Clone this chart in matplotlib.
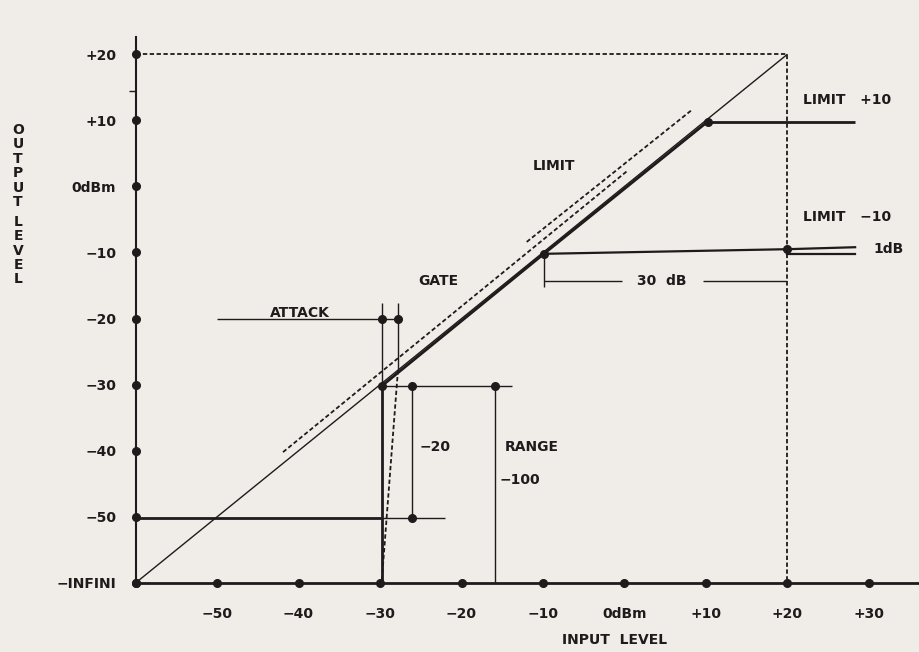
#!/usr/bin/env python3
"""
Noise gate / limiter transfer diagram: output level vs input level.
"""
import matplotlib
matplotlib.use("Agg")
import matplotlib.pyplot as plt

# Axis ticks and labels (dB)
x_ticks = [-50, -40, -30, -20, -10, 0, 10, 20, 30]
x_labels = ['−50', '−40', '−30', '−20', '−10', '0dBm', '+10', '+20', '+30']
y_ticks = [-60, -50, -40, -30, -20, -10, 0, 10, 20]
y_labels = ['−INFINI', '−50', '−40', '−30', '−20', '−10', '0dBm', '+10', '+20']

# Unity line and the +20 dashed frame
unity_x = [-60, 20]
unity_y = [-60, 20]
frame_x = [-60, 20, 20]
frame_y = [20, 20, -60]

# Gate / limit transfer curve (thick)
gate_x = [-29.8, -9.9, 10.2]
gate_y = [-30.2, -10.2, 9.8]
limit_hi_x = [10.2, 28.3]
limit_hi_y = [9.8, 9.8]
limit_lo_x = [-9.9, 20, 28.3]
limit_lo_y = [-10.2, -9.5, -9.2]
onedb_x = [20, 28.3]
onedb_y = [-10.2, -10.2]

# Dashed parallels (limit thresholds)
dash_lo_x = [-41.9, 0.3]
dash_lo_y = [-40.2, 2.3]
dash_hi_x = [-12.0, 8.3]
dash_hi_y = [-8.4, 11.6]

# Attack section
attack_x = [-50, -27.8]
attack_y = [-20, -20]
attack_v1_x = [-29.8, -29.8]
attack_v1_y = [-17.6, -30.2]
attack_v1_thick_y = [-30.2, -60]
attack_v2_x = [-27.8, -27.8]
attack_v2_y = [-17.6, -27.8]
attack_slope_x = [-27.8, -29.8]
attack_slope_y = [-27.8, -60]

# Range section
floor_thick_x = [-60, -29.8]
floor_thin_x = [-29.8, -22.0]
floor_y = [-50.2, -50.2]
range_top_x = [-29.8, -13.8]
range_top_y = [-30.2, -30.2]
range20_x = [-26.1, -26.1]
range20_y = [-30.2, -50.2]
range100_x = [-15.9, -15.9]
range100_y = [-30.2, -60]

# 30 dB dimension line
dim_tick_x = [-9.9, -9.9]
dim_tick_y = [-10.2, -15.2]
dim_left_x = [-9.9, -0.3]
dim_right_x = [9.6, 20]
dim_y = [-14.3, -14.3]

# Stray tick on the output axis
stray_x = [-60.8, -60]
stray_y = [14.4, 14.4]

# Marked points
pts_x = [-29.8, -9.9, 10.2, 20, -29.8, -27.8, -26.1, -15.9, -26.1]
pts_y = [-30.2, -10.2, 9.8, -9.5, -20, -20, -30.2, -30.2, -50.2]

bg = '#f0ece7'
ink = '#1d1b1b'


def plot_gate_diagram():
    fig = plt.figure(figsize=(9.2, 6.52), dpi=100, facecolor=bg)
    ax = fig.add_axes([0, 0, 1, 1], facecolor=bg)
    ax.set_xlim(-76.63, 36.26)
    ax.set_ylim(-70.44, 28.2)

    thin = dict(color=ink, linewidth=1.0, solid_capstyle='butt')
    thick = dict(color=ink, linewidth=2.0, solid_capstyle='butt')
    dash = dict(color=ink, linewidth=1.3, linestyle=(0, (2.4, 1.4)))

    # axes as spines, ticks drawn as dots
    for side in ['top', 'right']:
        ax.spines[side].set_visible(False)
    ax.spines['left'].set_position(('data', -60))
    ax.spines['bottom'].set_position(('data', -60))
    ax.spines['left'].set_bounds(-60, 22.6)
    ax.spines['bottom'].set_bounds(-60, 36.3)
    ax.spines['left'].set_linewidth(1.5)
    ax.spines['bottom'].set_linewidth(2.0)
    ax.spines['left'].set_color(ink)
    ax.spines['bottom'].set_color(ink)
    ax.set_xticks(x_ticks, x_labels)
    ax.set_yticks(y_ticks, y_labels)
    ax.tick_params(axis='x', length=0, pad=17, labelsize=10, labelcolor=ink)
    ax.tick_params(axis='y', length=0, pad=14, labelsize=10, labelcolor=ink)
    for lab in ax.get_xticklabels() + ax.get_yticklabels():
        lab.set_fontweight('bold')

    ax.plot([-60] + x_ticks, [-60] * (len(x_ticks) + 1), 'o', color=ink, markersize=5.5)
    ax.plot([-60] * len(y_ticks), y_ticks, 'o', color=ink, markersize=5.5)

    ax.plot(unity_x, unity_y, **thin)
    ax.plot(frame_x, frame_y, **dash)

    ax.plot(gate_x, gate_y, **thick)
    ax.plot(limit_hi_x, limit_hi_y, **thick)
    ax.plot(limit_lo_x, limit_lo_y, color=ink, linewidth=1.6)
    ax.plot(onedb_x, onedb_y, color=ink, linewidth=1.6)

    ax.plot(dash_lo_x, dash_lo_y, **dash)
    ax.plot(dash_hi_x, dash_hi_y, **dash)

    ax.plot(attack_x, attack_y, **thin)
    ax.plot(attack_v1_x, attack_v1_y, **thin)
    ax.plot(attack_v1_x, attack_v1_thick_y, **thick)
    ax.plot(attack_v2_x, attack_v2_y, **thin)
    ax.plot(attack_slope_x, attack_slope_y, **dash)

    ax.plot(floor_thick_x, floor_y, **thick)
    ax.plot(floor_thin_x, floor_y, **thin)
    ax.plot(range_top_x, range_top_y, **thin)
    ax.plot(range20_x, range20_y, **thin)
    ax.plot(range100_x, range100_y, **thin)

    ax.plot(dim_tick_x, dim_tick_y, **thin)
    ax.plot(dim_left_x, dim_y, **thin)
    ax.plot(dim_right_x, dim_y, **thin)
    ax.plot(stray_x, stray_y, **thin)

    ax.plot(pts_x, pts_y, 'o', color=ink, markersize=5.5)

    # labels
    txt = dict(color=ink, fontsize=10, fontweight='bold')
    ax.text(-11.2, 3.1, 'LIMIT', ha='left', va='center', **txt)
    ax.text(21.9, 13.1, 'LIMIT   +10', ha='left', va='center', **txt)
    ax.text(21.9, -4.6, 'LIMIT   −10', ha='left', va='center', **txt)
    ax.text(30.5, -9.5, '1dB', ha='left', va='center', **txt)
    ax.text(4.6, -14.3, '30  dB', ha='center', va='center', **txt)
    ax.text(-25.3, -14.3, 'GATE', ha='left', va='center', **txt)
    ax.text(-43.5, -19.7, 'ATTACK', ha='left', va='baseline', **txt)
    ax.text(-25.1, -39.4, '−20', ha='left', va='center', **txt)
    ax.text(-14.7, -39.4, 'RANGE', ha='left', va='center', **txt)
    ax.text(-15.3, -44.4, '−100', ha='left', va='center', **txt)

    ax.text(-1.2, -68.6, 'INPUT  LEVEL', ha='center', va='center', **txt)
    ax.text(-74.4, 3.1, '\n'.join('OUTPUT'), ha='center', va='center',
            linespacing=1.04, **txt)
    ax.text(-74.4, -9.7, '\n'.join('LEVEL'), ha='center', va='center',
            linespacing=1.04, **txt)

    fig.savefig('out.png', dpi=100, facecolor=bg)


if __name__ == "__main__":
    plot_gate_diagram()
